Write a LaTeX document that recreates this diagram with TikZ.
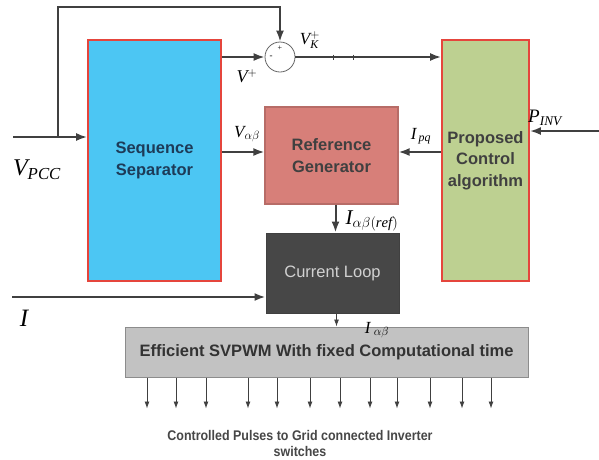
\documentclass[tikz,border=0pt]{standalone}
\usepackage{fontspec}
\setmainfont{Liberation Serif}
\setsansfont{Liberation Sans}
\newfontfamily\narrowsans[FakeStretch=0.89]{Liberation Sans}
\usetikzlibrary{arrows.meta,calc}
\definecolor{svpSky}{HTML}{4CC6F3}
\definecolor{svpLeaf}{HTML}{BDD091}
\definecolor{svpRose}{HTML}{D77F79}
\definecolor{svpCoal}{HTML}{474747}
\definecolor{svpSilver}{HTML}{C2C2C2}
\definecolor{svpRed}{HTML}{E5453C}
\definecolor{svpWire}{HTML}{404040}
\definecolor{svpNavy}{HTML}{1D3B58}

\begin{document}
\begin{tikzpicture}[x=1pt,y=-1pt,
  >={Latex[length=11pt,width=8pt]},
  block/.style={draw,line width=1.8pt,inner sep=2pt,align=center,
                font=\sffamily\bfseries\fontsize{16.5}{21.5}\selectfont},
  wire/.style={draw=svpWire,line width=2pt},
  pulse/.style={draw=svpWire,line width=0.9pt,->,>={Latex[length=7pt,width=5pt]}},
  lbl/.style={inner sep=0pt,font=\fontsize{17}{17}\selectfont}]
  \useasboundingbox[fill=white] (0,0) rectangle (599,459);

  % main blocks
  \node[block,draw=svpRed,fill=svpSky,text=svpNavy,
        minimum width=133pt,minimum height=241pt] (ss) at (154.5,160.5)
        {Sequence\\Separator};
  \node[block,draw=svpRed,fill=svpLeaf,text=black!75,
        minimum width=87pt,minimum height=241pt] (pc) at (485.5,160.5)
        {Proposed\\Control\\algorithm};
  \node[block,draw=svpRose!85!black,line width=1.2pt,fill=svpRose,text=black!75,
        minimum width=133pt,minimum height=97pt] (rg) at (331.5,155.5)
        {Reference\\Generator};
  \node[block,draw=black!75,line width=1pt,fill=svpCoal,text=black!18,
        font=\sffamily\fontsize{16.5}{20}\selectfont,
        minimum width=133pt,minimum height=80pt] (cl) at (332.5,273)
        {Current Loop};
  \node[block,draw=black!45,line width=1pt,fill=svpSilver,text=black!80,
        minimum width=403pt,minimum height=50pt] (pwm) at (326.5,352)
        {Efficient SVPWM With fixed Computational time};
  \node[draw=black!60,line width=0.8pt,fill=white,circle,
        minimum size=30pt,inner sep=0pt] (sum) at (280,57) {};
  \node[inner sep=0pt,font=\fontsize{8}{8}\selectfont] (plus) at ($(sum.center)+(0,-9)$) {+};
  \node[inner sep=0pt,font=\fontsize{9}{9}\selectfont] (minus) at ($(sum.center)+(-9,0)$) {-};

  % input, feedback and tap points
  \coordinate (vin) at (13,137);
  \coordinate (br) at (58,137);
  \coordinate (fbtop) at (58,7);
  \coordinate (pin) at (599,131);
  \coordinate (iin) at (12,297);
  \coordinate (vab) at ($(rg.west)+(0,-3.5)$);
  \coordinate (ipq) at ($(rg.east)+(0,-3.5)$);
  \coordinate (refout) at ($(rg.south)+(4,0)$);
  \coordinate (clout) at ($(cl.south)+(4,0)$);

  % connectors
  \draw[wire,->] (vin) -- (vin -| ss.west);
  \draw[wire,->] (br) -- (fbtop) -| (sum.north);
  \draw[wire,->] (ss.east |- sum) -- (sum.west);
  \draw[wire,->] (sum.east) -- (sum -| pc.west);
  \foreach \t in {333,353}
    \draw[svpWire,line width=0.8pt] (\t,54.5) -- (\t,59.5);
  \draw[wire,->] (ss.east |- vab) -- (vab);
  \draw[wire,->] (pc.west |- ipq) -- (ipq);
  \draw[wire,->] (pin) -- (pin -| pc.east);
  \draw[wire,->] (refout) -- (refout |- cl.north);
  \draw[wire,->] (iin) -- (iin -| cl.west);
  \draw[pulse] (clout) -- (clout |- pwm.north);
  \foreach \x in {147,176,206,248,277,310,340,370,397,430,462,491}
    \draw[pulse] (\x,0 |- pwm.south) -- ++(0,31);

  % signal labels
  \node[lbl,font=\fontsize{24}{24}\selectfont] (vpccl) at (37,170) {$\mathit{V}_{\mathit{PCC}}$};
  \node[lbl,font=\fontsize{25}{25}\selectfont] (il) at (24,318) {$\mathit{I}$};
  \node[lbl,font=\fontsize{18}{18}\selectfont] (vpl) at (247,76) {$\mathit{V}^{+}$};
  \node[lbl] (vkl) at (310,40) {$\mathit{V}_{\mathit{K}}^{+}$};
  \node[lbl] (vabl) at (247,134) {$\mathit{V}_{\alpha\beta}$};
  \node[lbl] (ipql) at (421,136) {$\mathit{I}_{\,\mathit{pq}}$};
  \node[lbl,font=\fontsize{19}{19}\selectfont] (pinvl) at (545,118) {$\mathit{P}_{\mathit{INV}}$};
  \node[lbl,font=\fontsize{21}{21}\selectfont] (irefl) at (372,221) {$\mathit{I}_{\alpha\beta(\mathit{ref})}$};
  \node[lbl] (iabl) at (377,330) {$\mathit{I}_{\;\alpha\beta}$};

  % output text
  \node[align=center,text=black!72,inner sep=0pt,
        font=\narrowsans\bfseries\fontsize{14}{16}\selectfont] (out) at (300,443)
        {Controlled Pulses to Grid connected Inverter\\switches};
\end{tikzpicture}
\end{document}
